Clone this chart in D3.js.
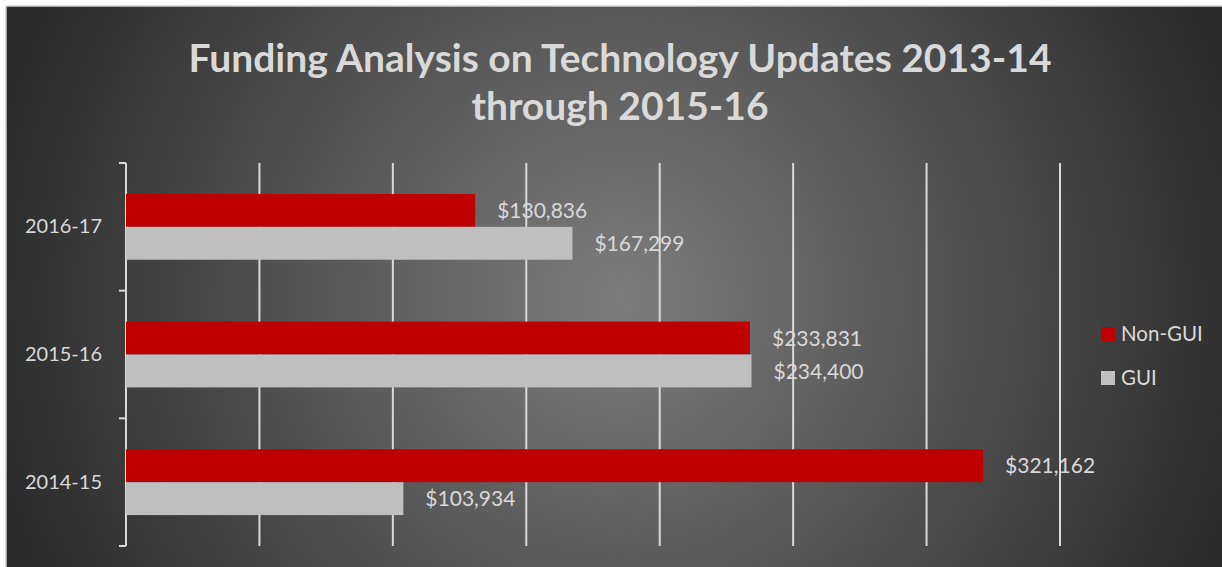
<!DOCTYPE html>
<html>
<head>
<meta charset="utf-8">
<script src="https://cdn.jsdelivr.net/npm/d3@7"></script>
<style>
  body { margin: 0; background: #fff; }
  text { font-family: Lato, "Open Sans", sans-serif; }
</style>
</head>
<body>
<svg id="chart" width="1222" height="567"></svg>
<script>
var years = ["2016-17", "2015-16", "2014-15"];
var series = ["Non-GUI", "GUI"];
var nonGui = [130836, 233831, 321162];
var gui = [167299, 234400, 103934];
var titleLines = ["Funding Analysis on Technology Updates 2013-14", "through 2015-16"];
var colours = ["#c00000", "#bfbfbf"];

var W = 1222, H = 567;
var svg = d3.select("#chart");

// background with radial gradient, thin frame top/left
var grad = svg.append("defs").append("radialGradient")
  .attr("id", "bg").attr("gradientUnits", "userSpaceOnUse")
  .attr("cx", 620).attr("cy", 300).attr("r", 640);
grad.append("stop").attr("offset", "0%").attr("stop-color", "#7d7d7d");
grad.append("stop").attr("offset", "100%").attr("stop-color", "#2b2b2b");

svg.append("rect").attr("x", 6).attr("y", 6).attr("width", W + 10).attr("height", H + 10)
  .attr("fill", "url(#bg)").attr("stroke", "#d0d0d0").attr("stroke-width", 1.5);

var x = d3.scaleLinear().domain([0, 350000]).range([126, 1060]);
var y = d3.scaleBand().domain(years).range([163, 546]);
var y1 = d3.scaleBand().domain(series).range([0, y.bandwidth()]).paddingOuter(0.94).paddingInner(0);

// gridlines
svg.append("g").selectAll("line")
  .data(x.ticks(7).filter(function(d) { return d > 0; }))
  .enter().append("line")
  .attr("x1", function(d) { return x(d); }).attr("x2", function(d) { return x(d); })
  .attr("y1", 163).attr("y2", 546)
  .attr("stroke", "#d9d9d9").attr("stroke-width", 2);

// category axis
var yAxis = svg.append("g")
  .attr("transform", "translate(" + x(0) + ",0)")
  .call(d3.axisLeft(y).tickSize(0).tickPadding(24));
yAxis.select(".domain").remove();
yAxis.selectAll("text").attr("fill", "#d9d9d9").style("font-size", "20px");

svg.append("line").attr("x1", x(0)).attr("x2", x(0)).attr("y1", 163).attr("y2", 546)
  .attr("stroke", "#d9d9d9").attr("stroke-width", 2);
var bounds = years.map(function(d) { return y(d); }).concat([y.range()[1]]);
svg.append("g").selectAll("line").data(bounds).enter().append("line")
  .attr("x1", x(0) - 7).attr("x2", x(0)).attr("y1", function(d) { return d; }).attr("y2", function(d) { return d; })
  .attr("stroke", "#d9d9d9").attr("stroke-width", 2);

// bars
var rows = years.map(function(yr, i) { return { year: yr, vals: [nonGui[i], gui[i]] }; });
var grp = svg.append("g").selectAll("g").data(rows).enter().append("g")
  .attr("transform", function(d) { return "translate(0," + y(d.year) + ")"; });

grp.selectAll("rect").data(function(d) { return d.vals.map(function(v, j) { return { s: series[j], v: v, c: colours[j] }; }); })
  .enter().append("rect")
  .attr("x", x(0)).attr("y", function(d) { return y1(d.s); })
  .attr("width", function(d) { return x(d.v) - x(0); })
  .attr("height", y1.bandwidth())
  .attr("fill", function(d) { return d.c; });

var fmt = d3.format(",");
grp.selectAll("text.val").data(function(d) { return d.vals.map(function(v, j) { return { s: series[j], v: v }; }); })
  .enter().append("text").attr("class", "val")
  .attr("x", function(d) { return x(d.v) + 22; })
  .attr("y", function(d) { return y1(d.s) + y1.bandwidth() / 2; })
  .attr("dy", "0.36em")
  .attr("fill", "#d9d9d9").style("font-size", "21px")
  .text(function(d) { return "$" + fmt(d.v); });

// title
svg.append("g").selectAll("text").data(titleLines).enter().append("text")
  .attr("x", 620).attr("y", function(d, i) { return 72 + i * 48; })
  .attr("text-anchor", "middle").attr("fill", "#d9d9d9")
  .style("font-size", "39px").style("font-weight", "bold")
  .text(function(d) { return d; });

// legend
var leg = svg.append("g").selectAll("g").data(series).enter().append("g")
  .attr("transform", function(d, i) { return "translate(1101," + (327 + i * 44) + ")"; });
leg.append("rect").attr("width", 14).attr("height", 14).attr("fill", function(d, i) { return colours[i]; });
leg.append("text").attr("x", 20).attr("y", 7).attr("dy", "0.36em")
  .attr("fill", "#d9d9d9").style("font-size", "20.5px").text(function(d) { return d; });
</script>
</body>
</html>
